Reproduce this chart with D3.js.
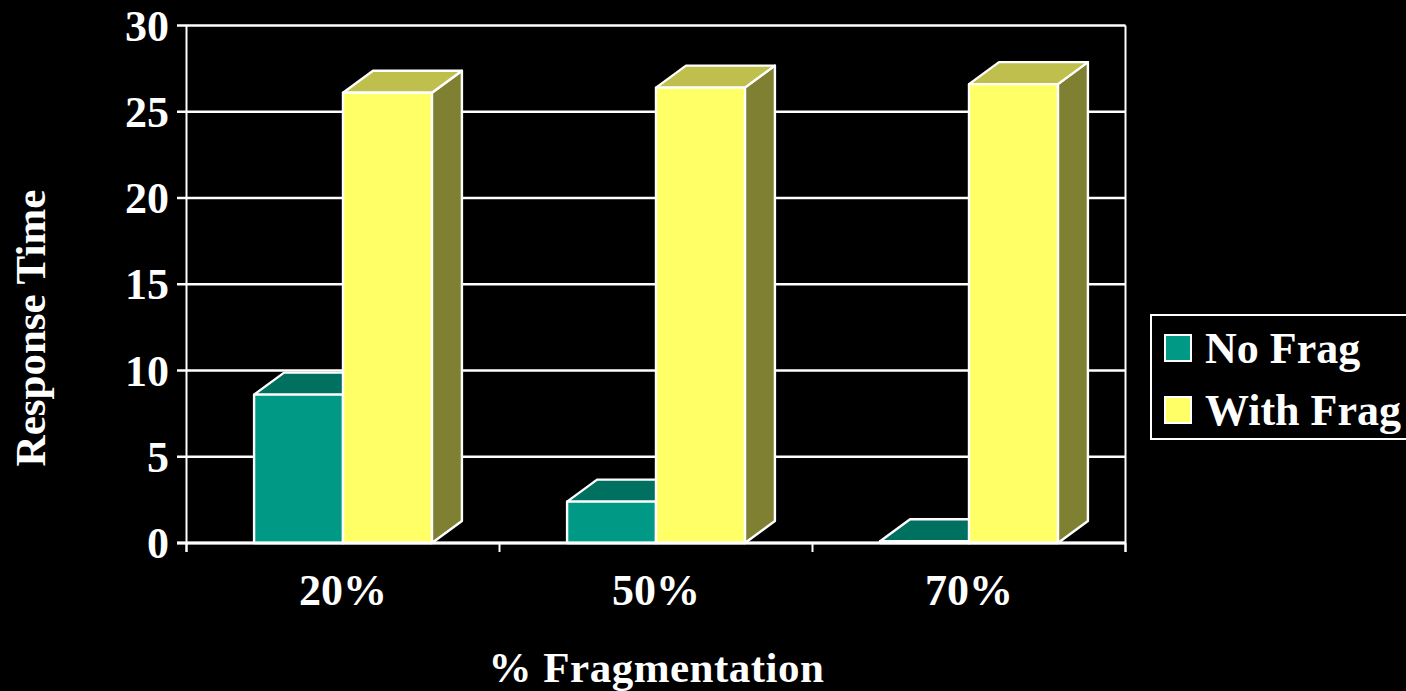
<!DOCTYPE html>
<html>
<head>
<meta charset="utf-8">
<script src="https://cdn.jsdelivr.net/npm/d3@7"></script>
<style>
html, body { margin: 0; padding: 0; background: #000; overflow: hidden; }
svg { display: block; }
text { font-family: "Liberation Serif", serif; font-weight: bold; fill: #fff; font-size: 44px; }
</style>
</head>
<body>
<svg id="chart" width="1406" height="691"></svg>
<script>
const categories = ["20%", "50%", "70%"];
const seriesNames = ["No Frag", "With Frag"];
const noFrag = [8.6, 2.4, 0.1];
const withFrag = [26.1, 26.4, 26.6];
const yTicks = [0, 5, 10, 15, 20, 25, 30];
const seriesValues = [noFrag, withFrag];
const frontColors = ["#009985", "#ffff66"];
const topColors = ["#007060", "#bfbf4d"];
const sideColors = ["#007060", "#808033"];

const svg = d3.select("#chart");
const plot = { left: 186.5, right: 1125.5, top: 25.5, bottom: 543 };
const depth = { dx: 30, dy: 22 };

const y = d3.scaleLinear().domain([0, 30]).range([plot.bottom, plot.top]);
const x0 = d3.scaleBand().domain(categories).range([plot.left, plot.right]);
const x1 = d3.scaleBand().domain(seriesNames).range([0, x0.bandwidth()]).paddingInner(0).paddingOuter(0.76);

// Horizontal gridlines and value axis
svg.append("g").selectAll("line").data(yTicks).join("line")
  .attr("x1", 177).attr("x2", plot.right)
  .attr("y1", d => y(d)).attr("y2", d => y(d))
  .attr("stroke", "#fff").attr("stroke-width", 2.4);

svg.append("g").selectAll("text").data(yTicks).join("text")
  .attr("x", 169).attr("y", d => y(d) + 15)
  .attr("text-anchor", "end")
  .text(d => d);

// Frame and category ticks
const frame = svg.append("g").attr("stroke", "#fff").attr("stroke-width", 2);
frame.append("line").attr("x1", plot.left).attr("x2", plot.left).attr("y1", plot.top).attr("y2", 552);
frame.append("line").attr("x1", plot.right).attr("x2", plot.right).attr("y1", plot.top).attr("y2", 552);
const boundaries = [...categories.map(c => x0(c)), plot.right];
frame.selectAll("line.tick").data(boundaries).join("line").attr("class", "tick")
  .attr("x1", d => d).attr("x2", d => d).attr("y1", plot.bottom).attr("y2", 552);

// Three-faced columns, rear series first so the nearer one overlaps it
const bars = svg.append("g").attr("stroke", "#fff").attr("stroke-width", 2.4).attr("stroke-linejoin", "round");
categories.forEach((cat, ci) => {
  seriesNames.forEach((name, si) => {
    const v = seriesValues[si][ci];
    const l = x0(cat) + x1(name), r = l + x1.bandwidth();
    const t = y(v), b = y(0);
    const { dx, dy } = depth;
    const g = bars.append("g");
    g.append("polygon")
      .attr("points", [[r, t], [r + dx, t - dy], [r + dx, b - dy], [r, b]].join(" "))
      .attr("fill", sideColors[si]);
    g.append("polygon")
      .attr("points", [[l, t], [l + dx, t - dy], [r + dx, t - dy], [r, t]].join(" "))
      .attr("fill", topColors[si]);
    g.append("rect")
      .attr("x", l).attr("y", t).attr("width", r - l).attr("height", b - t)
      .attr("fill", frontColors[si]);
  });
});

// Baseline over the column feet
svg.append("line").attr("x1", 177).attr("x2", plot.right)
  .attr("y1", plot.bottom).attr("y2", plot.bottom)
  .attr("stroke", "#fff").attr("stroke-width", 3);

// Category labels
svg.append("g").selectAll("text").data(categories).join("text")
  .attr("x", d => x0(d) + x0.bandwidth() / 2).attr("y", 605)
  .attr("text-anchor", "middle")
  .text(d => d);

// Axis titles
svg.append("text").attr("x", 656.5).attr("y", 681.5).attr("text-anchor", "middle")
  .style("font-size", "43px").style("letter-spacing", "0.5px")
  .text("% Fragmentation");
svg.append("text")
  .attr("transform", "translate(45,328) rotate(-90)")
  .attr("text-anchor", "middle")
  .style("font-size", "43px")
  .text("Response Time");

// Legend
const legend = svg.append("g");
legend.append("rect").attr("x", 1151).attr("y", 315).attr("width", 270).attr("height", 124)
  .attr("fill", "#000").attr("stroke", "#fff").attr("stroke-width", 2);
seriesNames.forEach((name, i) => {
  const cy = 348 + i * 62;
  legend.append("rect").attr("x", 1165).attr("y", cy - 13).attr("width", 26).attr("height", 26)
    .attr("fill", frontColors[i]).attr("stroke", "#fff").attr("stroke-width", 2);
  legend.append("text").attr("x", 1205).attr("y", cy + 15)
    .text(name);
});
</script>
</body>
</html>
